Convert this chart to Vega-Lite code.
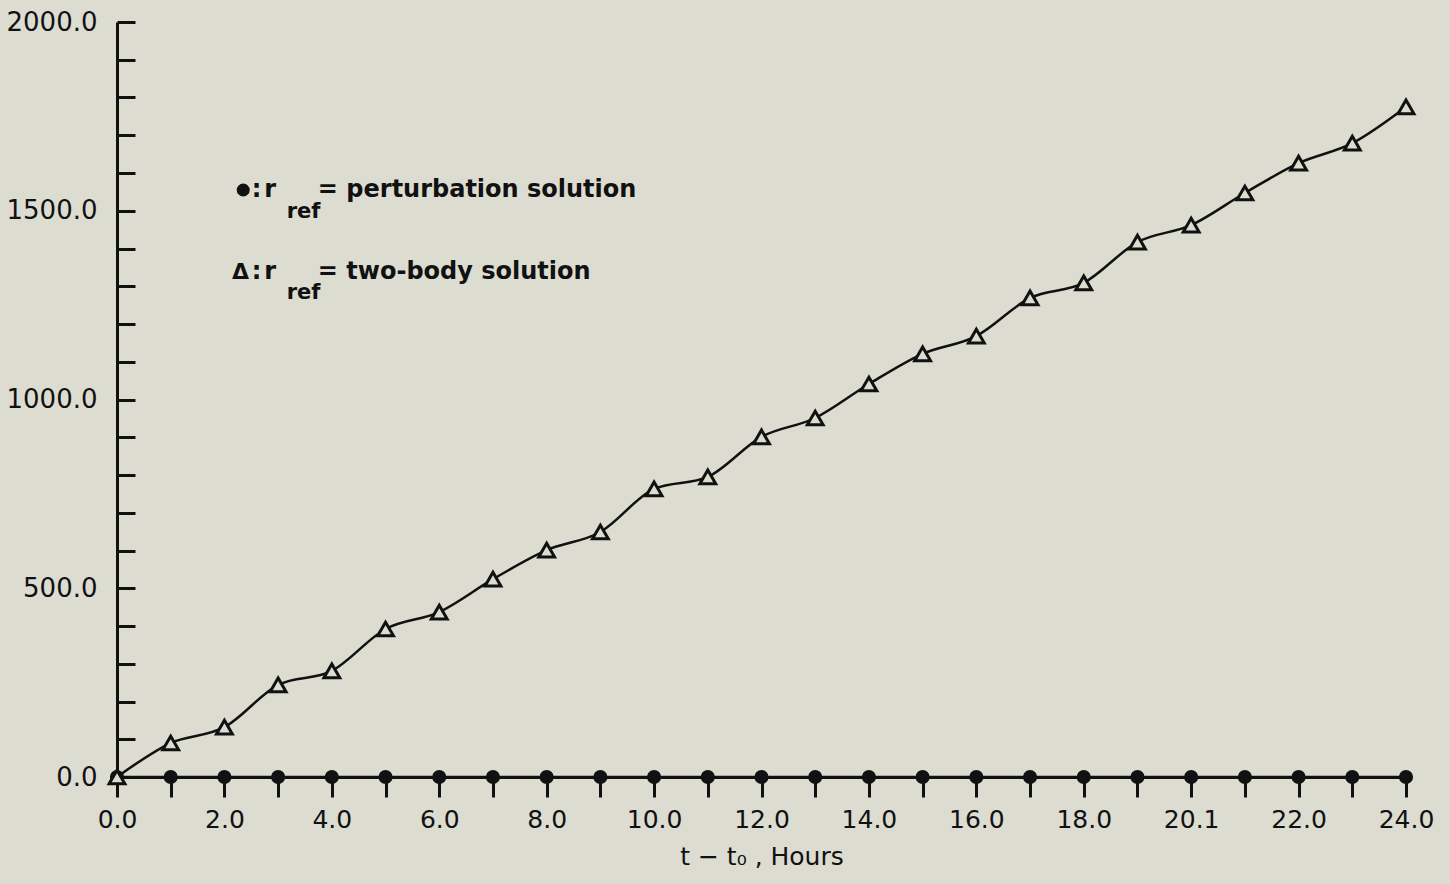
{
  "$schema": "https://vega.github.io/schema/vega-lite/v6.json",
  "width": 1289,
  "height": 755,
  "autosize": {"type": "none"},
  "padding": {"left": 117, "top": 22, "right": 44, "bottom": 107},
  "background": "#dcdcd1",
  "config": {
    "view": {"stroke": null},
    "font": "DejaVu Sans",
    "axis": {"grid": false, "domainColor": "#111", "tickColor": "#111", "labelColor": "#111", "titleColor": "#111", "labelFont": "DejaVu Sans", "titleFont": "DejaVu Sans"}
  },
  "datasets": {
    "series": [
      {"t": 0, "value": 0, "solution": "two-body"},
      {"t": 1, "value": 90, "solution": "two-body"},
      {"t": 2, "value": 132, "solution": "two-body"},
      {"t": 3, "value": 244, "solution": "two-body"},
      {"t": 4, "value": 281, "solution": "two-body"},
      {"t": 5, "value": 392, "solution": "two-body"},
      {"t": 6, "value": 437, "solution": "two-body"},
      {"t": 7, "value": 524, "solution": "two-body"},
      {"t": 8, "value": 601, "solution": "two-body"},
      {"t": 9, "value": 649, "solution": "two-body"},
      {"t": 10, "value": 763, "solution": "two-body"},
      {"t": 11, "value": 795, "solution": "two-body"},
      {"t": 12, "value": 901, "solution": "two-body"},
      {"t": 13, "value": 951, "solution": "two-body"},
      {"t": 14, "value": 1041, "solution": "two-body"},
      {"t": 15, "value": 1121, "solution": "two-body"},
      {"t": 16, "value": 1168, "solution": "two-body"},
      {"t": 17, "value": 1269, "solution": "two-body"},
      {"t": 18, "value": 1309, "solution": "two-body"},
      {"t": 19, "value": 1417, "solution": "two-body"},
      {"t": 20, "value": 1462, "solution": "two-body"},
      {"t": 21, "value": 1547, "solution": "two-body"},
      {"t": 22, "value": 1626, "solution": "two-body"},
      {"t": 23, "value": 1679, "solution": "two-body"},
      {"t": 24, "value": 1775, "solution": "two-body"},
      {"t": 0, "value": 0, "solution": "perturbation"},
      {"t": 1, "value": 0, "solution": "perturbation"},
      {"t": 2, "value": 0, "solution": "perturbation"},
      {"t": 3, "value": 0, "solution": "perturbation"},
      {"t": 4, "value": 0, "solution": "perturbation"},
      {"t": 5, "value": 0, "solution": "perturbation"},
      {"t": 6, "value": 0, "solution": "perturbation"},
      {"t": 7, "value": 0, "solution": "perturbation"},
      {"t": 8, "value": 0, "solution": "perturbation"},
      {"t": 9, "value": 0, "solution": "perturbation"},
      {"t": 10, "value": 0, "solution": "perturbation"},
      {"t": 11, "value": 0, "solution": "perturbation"},
      {"t": 12, "value": 0, "solution": "perturbation"},
      {"t": 13, "value": 0, "solution": "perturbation"},
      {"t": 14, "value": 0, "solution": "perturbation"},
      {"t": 15, "value": 0, "solution": "perturbation"},
      {"t": 16, "value": 0, "solution": "perturbation"},
      {"t": 17, "value": 0, "solution": "perturbation"},
      {"t": 18, "value": 0, "solution": "perturbation"},
      {"t": 19, "value": 0, "solution": "perturbation"},
      {"t": 20, "value": 0, "solution": "perturbation"},
      {"t": 21, "value": 0, "solution": "perturbation"},
      {"t": 22, "value": 0, "solution": "perturbation"},
      {"t": 23, "value": 0, "solution": "perturbation"},
      {"t": 24, "value": 0, "solution": "perturbation"}
    ]
  },
  "data": {"name": "series"},
  "encoding": {
    "x": {
      "field": "t", "type": "quantitative",
      "scale": {"domain": [0, 24], "nice": false, "zero": false},
      "axis": {
        "title": "t − t₀ , Hours",
        "titleFontSize": 25, "titleFontWeight": "normal", "titlePadding": 12,
        "values": [0,1,2,3,4,5,6,7,8,9,10,11,12,13,14,15,16,17,18,19,20,21,22,23,24],
        "labelExpr": "datum.value % 2 == 0 ? (datum.value == 20 ? '20.1' : format(datum.value, '.1f')) : ''",
        "labelFontSize": 25, "labelPadding": 10, "labelFlush": false, "labelOverlap": false,
        "domainWidth": 3, "tickWidth": 3, "tickSize": 20
      }
    },
    "y": {
      "field": "value", "type": "quantitative",
      "scale": {"domain": [0, 2000], "nice": false},
      "axis": {
        "title": null,
        "values": [0,100,200,300,400,500,600,700,800,900,1000,1100,1200,1300,1400,1500,1600,1700,1800,1900,2000],
        "labelExpr": "datum.value % 500 == 0 ? format(datum.value, '.1f') : ''",
        "labelFontSize": 26, "labelPadding": 38, "labelOverlap": false, "labelFlush": false,
        "domainWidth": 3, "tickWidth": 3, "tickSize": -18
      }
    }
  },
  "layer": [
    {
      "transform": [{"filter": "datum.solution == 'perturbation'"}],
      "mark": {"type": "line", "color": "#111", "strokeWidth": 2.5}
    },
    {
      "transform": [{"filter": "datum.solution == 'two-body'"}],
      "mark": {"type": "line", "color": "#111", "strokeWidth": 2.5, "interpolate": "monotone"}
    },
    {
      "transform": [{"filter": "datum.solution == 'perturbation'"}],
      "mark": {"type": "point", "shape": "circle", "filled": true, "color": "#111", "size": 200, "opacity": 1}
    },
    {
      "transform": [{"filter": "datum.solution == 'two-body'"}],
      "mark": {"type": "point", "shape": "triangle-up", "filled": true, "fill": "#dcdcd1", "stroke": "#111", "strokeWidth": 3, "size": 250, "opacity": 1}
    },
    {
      "transform": [{"filter": "datum.solution == 'two-body' && datum.t == 0"}],
      "mark": {"type": "point", "shape": "circle", "filled": true, "color": "#111", "size": 170, "opacity": 1},
      "encoding": {"x": {"datum": 2.35, "type": "quantitative"}, "y": {"datum": 1555, "type": "quantitative"}}
    },
    {
      "transform": [{"filter": "datum.solution == 'two-body' && datum.t == 0"}],
      "mark": {"type": "text", "text": ":", "align": "left", "baseline": "middle", "fontSize": 24, "fontWeight": "bold", "color": "#111"},
      "encoding": {"x": {"datum": 2.51, "type": "quantitative"}, "y": {"datum": 1555, "type": "quantitative"}}
    },
    {
      "transform": [{"filter": "datum.solution == 'two-body' && datum.t == 0"}],
      "mark": {"type": "text", "text": "r", "align": "left", "baseline": "middle", "fontSize": 24, "fontWeight": "bold", "color": "#111"},
      "encoding": {"x": {"datum": 2.74, "type": "quantitative"}, "y": {"datum": 1555, "type": "quantitative"}}
    },
    {
      "transform": [{"filter": "datum.solution == 'two-body' && datum.t == 0"}],
      "mark": {"type": "text", "text": "ref", "align": "left", "baseline": "middle", "fontSize": 21, "fontWeight": "bold", "color": "#111"},
      "encoding": {"x": {"datum": 3.16, "type": "quantitative"}, "y": {"datum": 1497, "type": "quantitative"}}
    },
    {
      "transform": [{"filter": "datum.solution == 'two-body' && datum.t == 0"}],
      "mark": {"type": "text", "text": "= perturbation solution", "align": "left", "baseline": "middle", "fontSize": 24, "fontWeight": "bold", "color": "#111"},
      "encoding": {"x": {"datum": 3.74, "type": "quantitative"}, "y": {"datum": 1555, "type": "quantitative"}}
    },
    {
      "transform": [{"filter": "datum.solution == 'two-body' && datum.t == 0"}],
      "mark": {"type": "text", "text": "Δ", "align": "left", "baseline": "middle", "fontSize": 22, "fontWeight": "bold", "color": "#111"},
      "encoding": {"x": {"datum": 2.14, "type": "quantitative"}, "y": {"datum": 1338, "type": "quantitative"}}
    },
    {
      "transform": [{"filter": "datum.solution == 'two-body' && datum.t == 0"}],
      "mark": {"type": "text", "text": ":", "align": "left", "baseline": "middle", "fontSize": 24, "fontWeight": "bold", "color": "#111"},
      "encoding": {"x": {"datum": 2.51, "type": "quantitative"}, "y": {"datum": 1338, "type": "quantitative"}}
    },
    {
      "transform": [{"filter": "datum.solution == 'two-body' && datum.t == 0"}],
      "mark": {"type": "text", "text": "r", "align": "left", "baseline": "middle", "fontSize": 24, "fontWeight": "bold", "color": "#111"},
      "encoding": {"x": {"datum": 2.74, "type": "quantitative"}, "y": {"datum": 1338, "type": "quantitative"}}
    },
    {
      "transform": [{"filter": "datum.solution == 'two-body' && datum.t == 0"}],
      "mark": {"type": "text", "text": "ref", "align": "left", "baseline": "middle", "fontSize": 21, "fontWeight": "bold", "color": "#111"},
      "encoding": {"x": {"datum": 3.16, "type": "quantitative"}, "y": {"datum": 1282, "type": "quantitative"}}
    },
    {
      "transform": [{"filter": "datum.solution == 'two-body' && datum.t == 0"}],
      "mark": {"type": "text", "text": "= two-body solution", "align": "left", "baseline": "middle", "fontSize": 24, "fontWeight": "bold", "color": "#111"},
      "encoding": {"x": {"datum": 3.74, "type": "quantitative"}, "y": {"datum": 1338, "type": "quantitative"}}
    }
  ]
}
